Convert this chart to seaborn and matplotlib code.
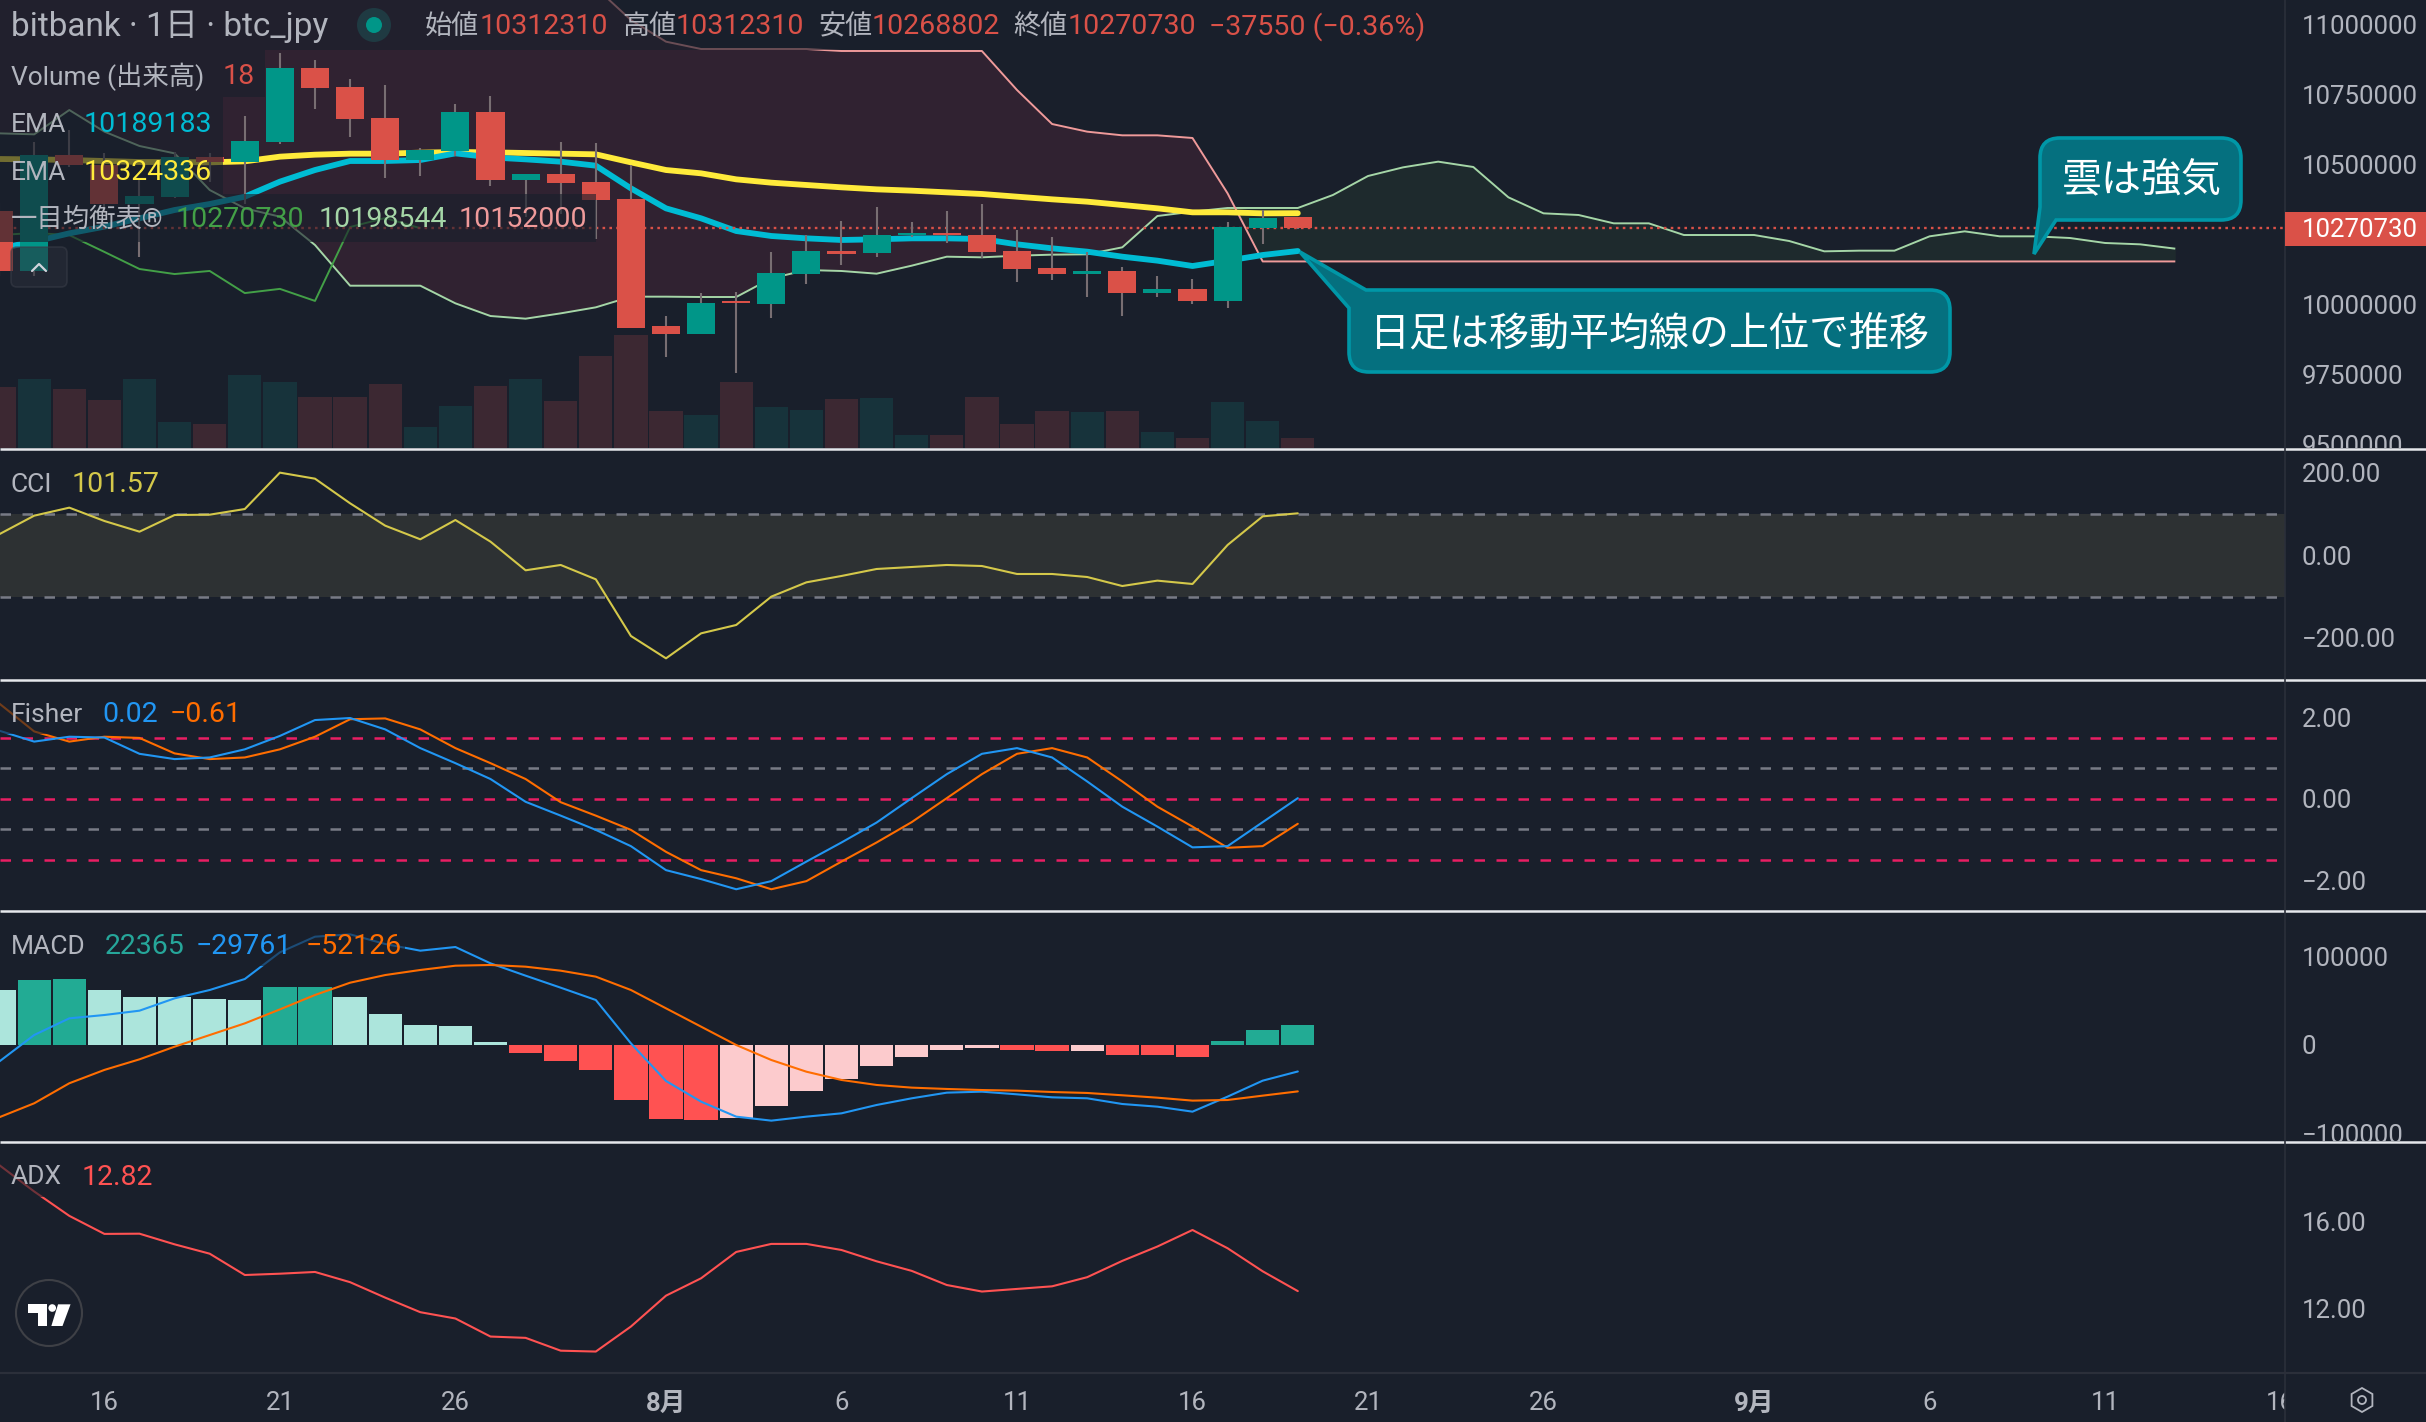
import numpy as np
import pandas as pd
import matplotlib
matplotlib.use("Agg")
import matplotlib.pyplot as plt
import seaborn as sns
from matplotlib.path import Path
from matplotlib.patches import PathPatch, Rectangle, FancyBboxPatch, Circle, RegularPolygon, Polygon
from matplotlib.transforms import Bbox

# ---------- data (prices in thousand JPY) ----------
first_day = -1
opens = [10332,10119,10532,10496,10357,10382,10525,10507,10578,10843,10775,10664,10514,10546,10686,10443,10464,10436,10375,9921,
         9893,10011,10000,10107,10189,10182,10246,10254,10246,10189,10129,10107,10118,10039,10054,10011,10271,10312.31]
highs = [10360,10577,10623,10538,10443,10544,10538,10671,10895,10871,10804,10782,10557,10714,10743,10464,10578,10575,10496,9957,
         10039,10043,10186,10246,10296,10346,10293,10332,10357,10264,10239,10186,10132,10100,10089,10293,10336,10312.31]
lows = [10100,10100,10490,10324,10167,10377,10437,10357,10571,10696,10596,10450,10457,10528,10421,10312,10323,10232,9914,9811,
        9893,9754,9950,10071,10139,10168,10239,10218,10164,10079,10086,10025,9957,10025,10000,9986,10214,10268.80]
closes = [10119,10532,10496,10357,10386,10525,10507,10582,10843,10771,10661,10514,10550,10686,10443,10464,10432,10371,9914,9893,
          10004,10004,10111,10189,10179,10246,10254,10246,10186,10125,10107,10118,10039,10054,10011,10275,10307,10270.73]
volume = [110,125,107,87,125,46,44,132,119,91,91,116,38,76,112,125,85,166,204,67,60,
          119,74,68,88,90,23,23,92,43,67,65,67,29,18,83,49,18]
ema_fast = [10198.8,10222.6,10252.4,10276.2,10305.9,10335.7,10357.1,10383.3,10436.9,10478.5,10510.7,10510.7,10514.3,10538,10523.8,
            10516.6,10508.3,10494,10413.1,10341.6,10305.9,10260.7,10242.9,10234.5,10228.6,10231,10234.5,10234.5,10232.1,10213.1,
            10198.8,10186.9,10169,10154.8,10135.7,10154.8,10175,10189.2]
ema_slow = [10517.8,10516.6,10514.3,10510.7,10507.1,10507.1,10505.9,10509.5,10526.2,10533.3,10536.9,10536.9,10540.5,10542.8,10541.6,
            10539.3,10536.9,10534.5,10505.9,10478.5,10466.7,10445.2,10433.3,10425,10416.7,10409.5,10404.8,10398.8,10392.9,10383.3,
            10373.8,10365.5,10353.6,10341.7,10327.4,10327.4,10323.8,10324.3]
senkou_a = [10609.5,10605.9,10692.8,10615.5,10564.3,10538,10407.1,10341.6,10311.9,10210.7,10065.4,10065.4,10065.4,10002.4,9957.1,
            9947.6,9966.6,9988.1,10026.2,10026.2,10025,10025,10091.7,10121.4,10117.9,10108.3,10136.9,10169,10166.7,10172.6,
            10176.2,10177.4,10202.4,10314.3,10329.8,10342.9,10342.9,10342.9,10389.3,10457.1,10488.1,10508.4,10489.3,10381,10323.8,
            10317.9,10288.1,10288.1,10246.4,10246.4,10246.4,10225,10188.1,10190.5,10190.5,10241.7,10259.5,10241.7,10241.7,10235.7,
            10217.9,10213.1,10197.6]
senkou_b = [11250]*17 + [11130,11014.3,10936.9,10910.7,10910.7,10910.7,10910.7,10903.6,10903.6,10903.6,10903.6,10903.6,
            10764.3,10642.8,10615.5,10602.4,10602.4,10592.9,10395.2] + [10152]*27
cci = [50.8,95.9,115.3,83,57.2,97.5,98.3,112,200,185.4,125.8,71.7,38.7,85.4,33,-36.3,-23.4,-58.1,-195.2,-249.3,
       -188.8,-168.6,-100,-65.4,-50,-33.1,-28.3,-23.4,-25.9,-45.2,-45.2,-52.5,-74.3,-61.3,-69.4,25,94.3,101.57]
fisher = [1.68,1.41,1.53,1.51,1.11,.98,1.02,1.22,1.55,1.94,1.99,1.71,1.25,.88,.49,-.07,-.41,-.76,-1.16,-1.75,
          -1.97,-2.22,-2.02,-1.54,-1.07,-.58,.02,.61,1.11,1.25,1.02,.43,-.19,-.68,-1.19,-1.16,-.57,.02]
fisher_sig = [2.35,1.66,1.41,1.53,1.5,1.12,.98,1.02,1.22,1.53,1.96,1.98,1.71,1.25,.88,.49,-.08,-.41,-.76,-1.30,
              -1.75,-1.95,-2.22,-2.02,-1.54,-1.07,-.57,.02,.61,1.11,1.25,1.02,.43,-.19,-.68,-1.2,-1.16,-.61]
hist = [61800,73000,74150,61800,53900,53900,51700,50560,65160,65160,53900,34830,22470,21350,3370,-8990,-17980,-28090,-61800,-83100,
        -84260,-82000,-68530,-51700,-38200,-23600,-13500,-5600,-3370,-5600,-6740,-6740,-11200,-11200,-13500,4490,16850,22365]
hist_kind = list("gGGgggggGGgggggRRRRRRrrrrrrrrRRrRRRGGG")
macd = [-18725,11235,29960,33705,38570,52430,61790,74150,104110,121700,124330,113470,105980,110100,91750,77900,64400,50560,1870,-40450,
        -63670,-80500,-85000,-80500,-76770,-67400,-59900,-53550,-52430,-55430,-58800,-59900,-66300,-69300,-74900,-58000,-40070,-29761]
macd_sig = [-81270,-65500,-43000,-28000,-16100,-1900,11200,24300,40000,56200,70000,78600,84300,89100,89900,88000,83500,76800,61800,41200,
            20600,0,-16850,-30000,-39300,-44900,-47900,-49400,-50600,-51300,-52800,-53900,-56500,-59200,-62500,-61800,-56900,-52126]
adx = [18.62,17.4,16.28,15.45,15.46,14.97,14.54,13.56,13.62,13.7,13.23,12.52,11.85,11.56,10.73,10.67,10.08,10.04,11.19,12.61,
       13.41,14.62,14.99,14.99,14.71,14.19,13.75,13.1,12.8,12.92,13.04,13.46,14.21,14.87,15.63,14.79,13.73,12.82]
date_ticks = [2,7,12,18,23,28,33,38,43,49,54,59,64]
date_labels = ["16","21","26","8月","6","11","16","21","26","9月","6","11","16"]
price_ticks = [11000000,10750000,10500000,10000000,9750000,9500000]
last_price = 10270730

# ---------- style ----------
BG = "#191f2b"; GRID = "#2b2f3a"; TXT = "#b2b5be"; SEP = "#e6e8ec"
UP = "#009688"; DOWN = "#da5148"; WICK = "#786e72"
VUP = "#17333b"; VDN = "#3c2832"
CYAN = "#00bcd4"; YEL = "#ffeb3b"; SA = "#a5d6a7"; SB = "#ef9a9a"; CH = "#43a047"
BLUE = "#2196f3"; ORG = "#ff6d00"; RED2 = "#ff5252"; CCIC = "#d4c84a"
W, H = 2426, 1422; AX_R = 2285
sns.set_theme(style="dark", rc={"axes.facecolor": BG, "figure.facecolor": BG, "savefig.facecolor": BG,
                                "axes.edgecolor": BG, "text.color": TXT, "xtick.color": TXT, "ytick.color": TXT,
                                "axes.grid": False})
FONT = ["Roboto", "Noto Sans CJK JP", "DejaVu Sans"]
plt.rcParams["font.family"] = FONT
plt.rcParams["axes.unicode_minus"] = True

fig = plt.figure(figsize=(W/100, H/100), dpi=100)
def pane(top, bottom):
    return fig.add_axes([0, 1-bottom/H, AX_R/W, (bottom-top)/H])

days = np.arange(first_day, first_day+len(closes))
fdays = np.arange(first_day, first_day+len(senkou_a))
XLIM = ((0-34.2)/35.1, (AX_R-34.2)/35.1)

def line(ax, x, y, color, lw, z=3, cap="round"):
    sns.lineplot(x=np.asarray(x), y=np.asarray(y, float), ax=ax, color=color, linewidth=lw, errorbar=None,
                 sort=False, zorder=z, solid_capstyle=cap, legend=False)

def finish(ax, ylim, ticks, labels, top, bottom):
    ax.set_xlim(*XLIM); ax.set_ylim(*ylim)
    ax.set_xlabel(""); ax.set_ylabel("")
    ax.yaxis.tick_right()
    ax.set_yticks(ticks); ax.set_yticklabels(labels, fontsize=18.5, color=TXT)
    ax.tick_params(axis="y", length=0, pad=12)
    ax.set_xticks(date_ticks); ax.tick_params(axis="x", length=0, labelbottom=False)
    for s in ax.spines.values():
        s.set_visible(False)
    clip = Bbox([[0, H-bottom], [W, H-top]])
    for lb in ax.get_yticklabels():
        lb.set_clip_box(clip); lb.set_clip_on(True)

# ---------- price pane ----------
vax = pane(0, 448)
ax = fig.add_axes(vax.get_position(), sharex=None)
vax.set_zorder(1); ax.set_zorder(2); ax.patch.set_visible(False)
vax.bar(days, volume, width=0.95, color=[VUP if c >= o else VDN for o, c in zip(opens, closes)], linewidth=0)
vax.set_xlim(*XLIM); vax.set_ylim(0, 448*1.8); vax.set_xticks([]); vax.set_yticks([])
for s in vax.spines.values():
    s.set_visible(False)

A = np.array(senkou_a)*1000; B = np.array(senkou_b)*1000
ax.fill_between(fdays, A, B, where=B >= A, interpolate=True, color="#302231", linewidth=0, zorder=1)
ax.fill_between(fdays, A, B, where=A >= B, interpolate=True, color="#1e2a2d", linewidth=0, zorder=1)
line(ax, fdays, A, SA, 1.4, 2, "butt")
line(ax, fdays, B, SB, 1.4, 2, "butt")
line(ax, days[:13], np.array(closes[25:])*1000, CH, 1.4, 2, "butt")
line(ax, days, np.array(ema_slow)*1000, YEL, 4.2, 2.5)
line(ax, days, np.array(ema_fast)*1000, CYAN, 4.2, 2.6)
ax.axhline(last_price, color=DOWN, lw=1.7, dashes=(1.1, 1.8), zorder=2.8)
o = np.array(opens)*1000; c = np.array(closes)*1000; hi = np.array(highs)*1000; lo = np.array(lows)*1000
ax.vlines(days, lo, hi, color=WICK, lw=1.5, zorder=3)
ax.bar(days, np.abs(c-o), bottom=np.minimum(o, c), width=0.8,
       color=[UP if a >= b else DOWN for a, b in zip(c, o)], linewidth=0, zorder=3.2)
finish(ax, (9485727, 11085714), price_ticks, [str(t) for t in price_ticks], 0, 448)

# ---------- CCI ----------
ax2 = pane(450, 679)
ax2.axhspan(-100, 100, color="#2d3133", linewidth=0, zorder=1)
for v in (100, -100):
    ax2.axhline(v, color="#787b86", lw=1.8, dashes=(4.2, 4.6), zorder=2)
line(ax2, days, cci, CCIC, 1.5)
finish(ax2, (-299.3, 254.8), [200, 0, -200], ["200.00", "0.00", "−200.00"], 450, 679)

# ---------- Fisher ----------
ax3 = pane(681, 910)
for v in (1.5, 0, -1.5):
    ax3.axhline(v, color="#e91e63", lw=1.8, dashes=(4.2, 4.6), zorder=2)
for v in (0.75, -0.75):
    ax3.axhline(v, color="#787b86", lw=1.8, dashes=(4.2, 4.6), zorder=2)
line(ax3, days, fisher_sig, ORG, 1.5)
line(ax3, days, fisher, BLUE, 1.5, 3.1)
finish(ax3, (-2.73, 2.90), [2, 0, -2], ["2.00", "0.00", "−2.00"], 681, 910)

# ---------- MACD ----------
ax4 = pane(912, 1141)
cmap = {"G": "#22ab94", "g": "#ace5dc", "R": "#ff5252", "r": "#fccbcd"}
ax4.bar(days, hist, width=0.95, color=[cmap[k] for k in hist_kind], linewidth=0, zorder=1)
line(ax4, days, macd, BLUE, 1.5)
line(ax4, days, macd_sig, ORG, 1.5, 3.1)
finish(ax4, (-107870, 149440), [100000, 0, -100000], ["100000", "0", "−100000"], 912, 1141)

# ---------- ADX ----------
ax5 = pane(1143, 1372)
line(ax5, days, adx, RED2, 1.5)
finish(ax5, (9.10, 19.63), [16, 12], ["16.00", "12.00"], 1143, 1372)
ax5.tick_params(axis="x", labelbottom=True, pad=14, labelsize=18.5)
ax5.set_xticklabels(date_labels)
xclip = Bbox([[0, 0], [AX_R, H]])
for lb, t_ in zip(ax5.get_xticklabels(), date_labels):
    lb.set_clip_box(xclip); lb.set_clip_on(True); lb.set_color(TXT)
    if "月" in t_:
        lb.set_fontweight("bold")

# ---------- overlay canvas ----------
cv = fig.add_axes([0, 0, 1, 1], zorder=10)
cv.set_xlim(0, W); cv.set_ylim(H, 0); cv.axis("off"); cv.patch.set_visible(False)

# legend backdrops
for x0, y0, x1, y1 in [(0,0,1435,50),(0,50,265,97),(0,97,223,194),(0,194,596,242),
                       (0,461,163,505),(0,692,245,734),(0,925,405,966),(0,1155,155,1197)]:
    cv.add_patch(Rectangle((x0, y0), x1-x0, y1-y0, facecolor=BG, edgecolor="none", alpha=0.62, zorder=1))

# frame lines
for y in (449, 680, 911, 1142):
    cv.plot([0, W], [y, y], color=SEP, lw=1.8, zorder=2, solid_capstyle="butt")
cv.plot([0, W], [1372.5, 1372.5], color=GRID, lw=1.6, zorder=2)
cv.plot([AX_R, AX_R], [0, H], color=GRID, lw=1.2, zorder=2)

# last-price tag
cv.add_patch(Rectangle((AX_R, 212), W-AX_R, 34, facecolor=DOWN, edgecolor="none", zorder=3))
cv.text(2302, 230, str(last_price), color="white", fontsize=18.5, va="center", ha="left", zorder=4)

def t(x, y, s, color=TXT, size=20.5, **kw):
    cv.text(x, y+1.5, s, color=color, fontsize=size, va="center", ha="left", zorder=5, **kw)

# header
t(11, 25, "bitbank · 1日 · btc_jpy", size=24)
cv.add_patch(Circle((374, 25), 17, facecolor="#1f3a42", edgecolor="none", zorder=4))
cv.add_patch(Circle((374, 25), 8, facecolor=UP, edgecolor="none", zorder=5))
for x, s, col in [(425,"始値",TXT),(480,"10312310",DOWN),(622,"高値",TXT),(676,"10312310",DOWN),
                  (818,"安値",TXT),(872,"10268802",DOWN),(1013,"終値",TXT),(1068,"10270730",DOWN),
                  (1209,"−37550 (−0.36%)",DOWN)]:
    t(x, 25, s, col, size=(19.5 if col == TXT else 20.5))
# price legends
t(11, 75, "Volume (出来高)", size=19); t(223, 75, "18", DOWN)
t(11, 123, "EMA", size=19); t(84, 123, "10189183", CYAN)
t(11, 171, "EMA", size=19); t(84, 171, "10324336", YEL)
t(11, 218, "一目均衡表®", size=19); t(176, 218, "10270730", CH); t(319, 218, "10198544", SA); t(459, 218, "10152000", SB)
# sub pane legends
t(11, 483, "CCI", size=19); t(72, 483, "101.57", CCIC)
t(11, 713, "Fisher", size=19); t(102, 713, "0.02", BLUE); t(170, 713, "−0.61", ORG)
t(11, 945, "MACD", size=19); t(105, 945, "22365", "#26a69a"); t(196, 945, "−29761", BLUE); t(306, 945, "−52126", ORG)
t(11, 1176, "ADX", size=19); t(82, 1176, "12.82", RED2)

# collapse button
cv.add_patch(FancyBboxPatch((14, 250), 50, 34, boxstyle="round,pad=3,rounding_size=6", facecolor="#2b2f3a", alpha=0.55,
                            edgecolor="#3a3e49", lw=1.2, zorder=4))
cv.plot([32, 39, 46], [271, 264, 271], color="#d1d4dc", lw=1.6, zorder=5)

# logo
cv.add_patch(Circle((49, 1313), 33, facecolor=BG, edgecolor="#3e4046", lw=1.5, zorder=4))
def zp(pts):
    return [(x/2.24, 1145+y/3) for x, y in pts]
cv.add_patch(Polygon(zp([(63,478),(105,478),(105,543),(85,543),(85,503),(63,503)]), facecolor="white", edgecolor="none", zorder=5))
cv.add_patch(Polygon(zp([(130,478),(158,478),(140,543),(115,543)]), facecolor="white", edgecolor="none", zorder=5))
cv.add_patch(Circle((117/2.24, 1145+489/3), 3.8, facecolor="white", edgecolor="none", zorder=5))

# settings icon
cv.add_patch(RegularPolygon((2362, 1400), 6, radius=12, facecolor="none", edgecolor=TXT, lw=1.3, zorder=5))
cv.add_patch(Circle((2362, 1400), 4, facecolor="none", edgecolor=TXT, lw=1.3, zorder=5))

# callouts
def rounded(seq):
    verts, codes = [], []
    for kind, p in seq:
        verts.append(p); codes.append({"M": Path.MOVETO, "L": Path.LINETO, "Q": Path.CURVE3}[kind])
    verts.append(seq[0][1]); codes.append(Path.CLOSEPOLY)
    return Path(verts, codes)
CF = "#05707f"; CE = "#0097a7"; R = 20
x0, y0, x1, y1 = 1349, 290, 1950, 372
p1 = rounded([("M",(1366,y0)),("L",(x1-R,y0)),("Q",(x1,y0)),("Q",(x1,y0+R)),("L",(x1,y1-R)),("Q",(x1,y1)),("Q",(x1-R,y1)),
              ("L",(x0+R,y1)),("Q",(x0,y1)),("Q",(x0,y1-R)),("L",(x0,308)),("L",(1300,252))])
cv.add_patch(PathPatch(p1, facecolor=CF, edgecolor=CE, lw=2.6, joinstyle="miter", zorder=6))
cv.text((x0+x1)/2, 334, "日足は移動平均線の上位で推移", color="white", fontsize=28.8, ha="center", va="center", zorder=7)
x0, y0, x1, y1 = 2040, 138, 2241, 220
p2 = rounded([("M",(x0+R,y0)),("L",(x1-R,y0)),("Q",(x1,y0)),("Q",(x1,y0+R)),("L",(x1,y1-R)),("Q",(x1,y1)),("Q",(x1-R,y1)),
              ("L",(2056,y1)),("L",(2034,254)),("L",(x0,207)),("L",(x0,y0+R)),("Q",(x0,y0)),("Q",(x0+R,y0))])
cv.add_patch(PathPatch(p2, facecolor=CF, edgecolor=CE, lw=2.6, joinstyle="miter", zorder=6))
cv.text((x0+x1)/2+1, 180, "雲は強気", color="white", fontsize=28.8, ha="center", va="center", zorder=7)

fig.savefig("out.png", dpi=100)
